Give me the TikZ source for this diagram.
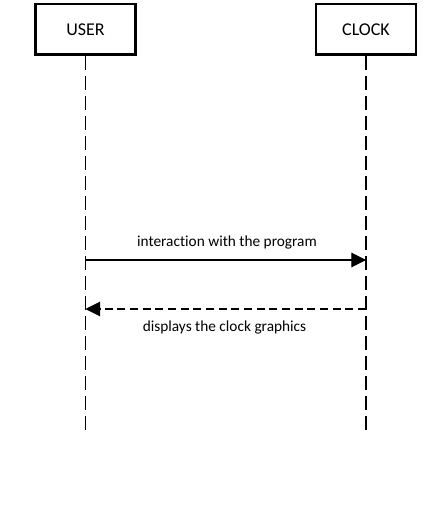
\documentclass[tikz,border=0pt]{standalone}
\usepackage{fontspec}
\setmainfont{Carlito}[Ligatures=NoCommon]
\usetikzlibrary{arrows.meta}
\begin{document}
\begin{tikzpicture}[x=0.75pt,y=-0.75pt,
  actor/.style={draw,line width=2pt,minimum width=75pt,minimum height=38pt,inner sep=0pt,font=\fontsize{13.5}{16}\selectfont},
  lifeline/.style={line width=1pt,dash pattern=on 10.5pt off 4.5pt},
  msg/.style={line width=0.8pt,-{Triangle[length=11pt,width=11pt]}},
  lbl/.style={font=\fontsize{11.5}{13}\selectfont}]
\useasboundingbox (0,0) rectangle (428,530);
\node[actor] (user) at (85.5,29.5) {USER};
\node[actor] (clock) at (366,29.5) {CLOCK};
\coordinate (uend) at (85.5,435);
\coordinate (cend) at (366,435);
\draw[lifeline] (user.south) -- (uend);
\draw[lifeline] (clock.south) -- (cend);
\coordinate (m1s) at (85.5,260);
\coordinate (m1e) at (366,260);
\coordinate (m2s) at (366,309);
\coordinate (m2e) at (85.5,309);
\draw[msg] (m1s) -- (m1e);
\draw[msg,dash pattern=on 6pt off 3.5pt] (m2s) -- (m2e);
\node[lbl] (l1) at (227,242) {interaction with the program};
\node[lbl] (l2) at (224.5,327) {displays the clock graphics};
\end{tikzpicture}
\end{document}
